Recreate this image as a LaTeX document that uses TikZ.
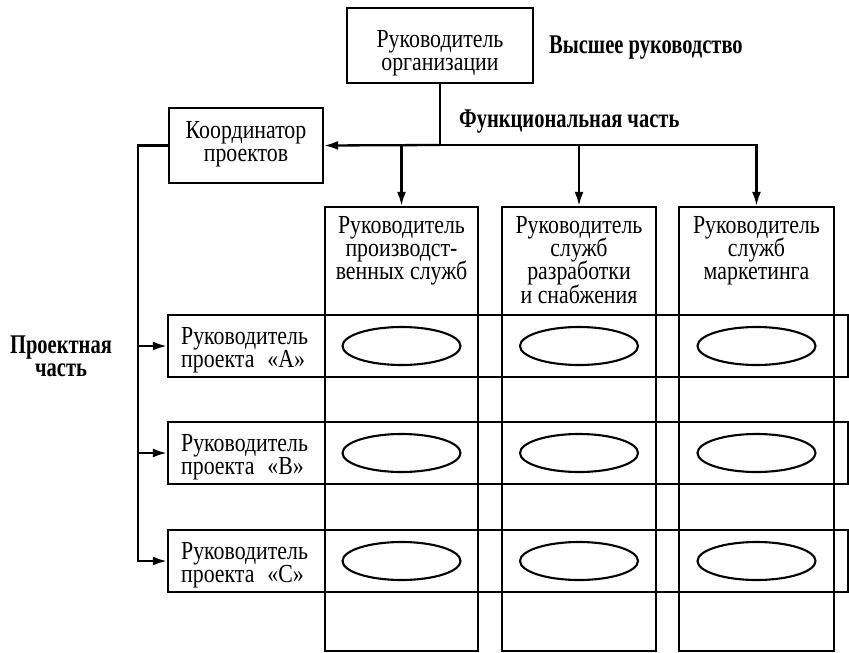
\documentclass[tikz,border=0pt]{standalone}
\usepackage{fontspec}
\setmainfont{Liberation Serif}[FakeStretch=0.84]
\newfontfamily\hfont{Liberation Serif Bold}[FakeStretch=0.76]
\usetikzlibrary{arrows.meta,shapes.geometric}
\begin{document}
\lineskiplimit=-100pt
\begin{tikzpicture}[x=1pt,y=-1pt,line width=2.3pt,
  box/.style={draw,rectangle,inner sep=0pt},
  txt/.style={font=\fontsize{26}{23.3}\selectfont,align=center,inner sep=0pt},
  lbl/.style={font=\hfont\fontsize{27}{22.5}\selectfont,inner sep=0pt},
  cell/.style={draw,ellipse,line width=2.1pt,minimum width=118pt,minimum height=38pt,inner sep=0pt},
  arr/.style={-{Latex[length=14pt,width=9pt]}}]
\useasboundingbox (0,0) rectangle (849,653);
% boxes
\node[box,minimum width=186pt,minimum height=75pt] (top) at (440,45.5) {};
\node[txt,anchor=north] (toptxt) at (440,29.5) {Руководитель\\организации};
\node[box,minimum width=154pt,minimum height=75pt] (koord) at (246,145.5) {};
\node[txt,anchor=north] (koordtxt) at (246,120) {Координатор\\проектов};
% columns
\node[box,minimum width=153pt,minimum height=444pt] (col1) at (401.5,429) {};
\node[box,minimum width=154pt,minimum height=444pt] (col2) at (579,429) {};
\node[box,minimum width=155pt,minimum height=444pt] (col3) at (756.5,429) {};
\node[txt,anchor=north] (h1) at (401.5,215) {Руководитель\\производст-\\венных служб};
\node[txt,anchor=north] (h2) at (579,215) {Руководитель\\служб\\разработки\\и снабжения};
\node[txt,anchor=north] (h3) at (756.5,215) {Руководитель\\служб\\маркетинга};
% rows
\node[box,minimum width=680pt,minimum height=62pt] (rA) at (508,346) {};
\node[box,minimum width=680pt,minimum height=62pt] (rB) at (508,453) {};
\node[box,minimum width=680pt,minimum height=62pt] (rC) at (508,561) {};
\node[txt,align=left,anchor=north west] (tA) at (180,326) {Руководитель\\проекта\enspace«А»};
\node[txt,align=left,anchor=north west] (tB) at (180,433) {Руководитель\\проекта\enspace«В»};
\node[txt,align=left,anchor=north west] (tC) at (180,541) {Руководитель\\проекта\enspace«С»};
% ellipses
\foreach \r in {A,B,C}{
  \node[cell] (e\r1) at (col1.center |- r\r.center) {};
  \node[cell] (e\r2) at (col2.center |- r\r.center) {};
  \node[cell] (e\r3) at (col3.center |- r\r.center) {};
}
% labels
\node[lbl,anchor=base west] (hi) at (548,53) {Высшее руководство};
\node[lbl,anchor=base west] (fn) at (458,127) {Функциональная часть};
\node[lbl,align=center,anchor=north] (pr) at (61,335) {Проектная\\часть};
% connectors
\coordinate (j) at (440,145);
\draw (top.south) -- (j);
\draw[arr] (j) -- (koord.east);
\draw[arr] (j) -| (col3.north);
\draw[arr] (col1.north |- j) -- (col1.north);
\draw[arr] (col2.north |- j) -- (col2.north);
\coordinate (L) at (138,145.5);
\draw[arr] (koord.west) -- (L) |- (rC.west);
\draw[arr] (L |- rA.west) -- (rA.west);
\draw[arr] (L |- rB.west) -- (rB.west);
\end{tikzpicture}
\end{document}
